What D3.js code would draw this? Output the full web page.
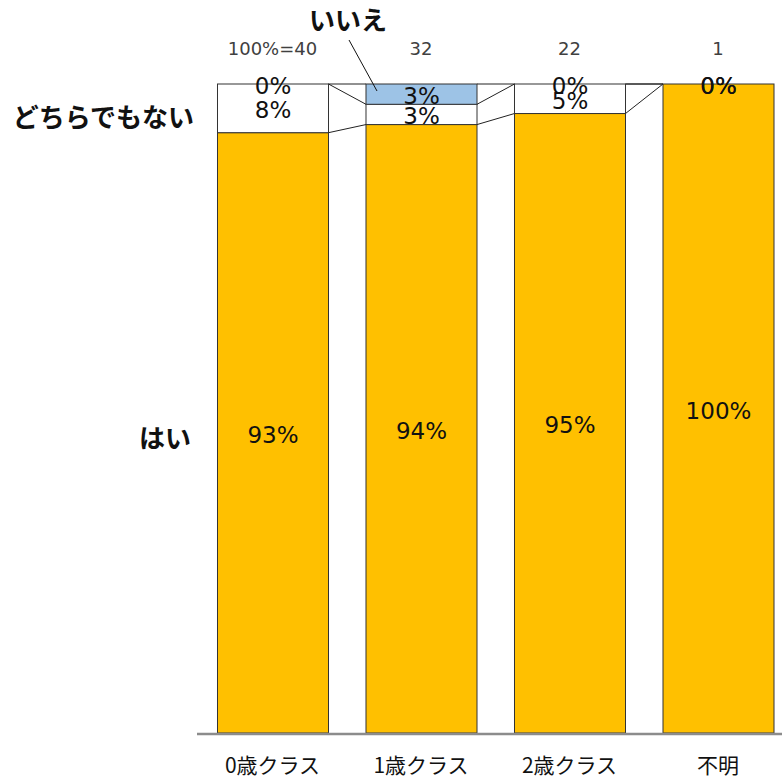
<!DOCTYPE html>
<html><head><meta charset="utf-8">
<script src="https://cdn.jsdelivr.net/npm/d3@7"></script>
<style>
html,body{margin:0;padding:0;background:#fff;}
svg{display:block;font-family:"Noto Sans CJK JP","Noto Sans",sans-serif;}
</style></head>
<body>
<svg id="chart" width="782" height="780"></svg>
<script>
const categories = ["0歳クラス", "1歳クラス", "2歳クラス", "不明"];
const totals = ["100%=40", "32", "22", "1"];
const seriesNames = ["はい", "どちらでもない", "いいえ"];
const yesValues = [92.5, 93.75, 95.45, 100];
const neutralValues = [7.5, 3.125, 4.55, 0];
const noValues = [0, 3.125, 0, 0];
const colors = ["#FFC000", "#FFFFFF", "#9DC3E6"];

const svg = d3.select("#chart");
const x = d3.scaleBand().domain(categories).range([198.25, 792.25]).paddingInner(0.2525).paddingOuter(0.12625);
const y = d3.scaleLinear().domain([0, 100]).range([733, 84]);
const bw = x.bandwidth();
const numFont = "DejaVu Sans, Verdana, sans-serif";

const seriesVals = [yesValues, neutralValues, noValues];
const stacks = seriesVals.map(() => []);
categories.forEach((c, i) => {
  let acc = 0;
  seriesVals.forEach((vals, s) => {
    stacks[s].push([acc, acc + vals[i]]);
    acc += vals[i];
  });
});

// series lines
const gl = svg.append("g");
stacks.forEach((st) => {
  for (let i = 0; i < categories.length - 1; i++) {
    gl.append("line")
      .attr("x1", x(categories[i]) + bw + 0.5).attr("y1", y(st[i][1]))
      .attr("x2", x(categories[i + 1]) + 0.5).attr("y2", y(st[i + 1][1]))
      .attr("stroke", "#222").attr("stroke-width", 1);
  }
});

// bars
stacks.forEach((st, s) => {
  svg.append("g").selectAll("rect").data(st).join("rect")
    .attr("x", (d, i) => x(categories[i]) + 0.5)
    .attr("y", d => y(d[1]))
    .attr("width", bw)
    .attr("height", d => y(d[0]) - y(d[1]))
    .attr("fill", colors[s])
    .attr("stroke", "#333")
    .attr("stroke-width", 1);
});

// data labels
stacks.forEach((st, s) => {
  svg.append("g").selectAll("text").data(st).join("text")
    .attr("x", (d, i) => x(categories[i]) + bw / 2 + 0.5)
    .attr("y", d => (y(d[0]) + y(d[1])) / 2 + 2)
    .attr("text-anchor", "middle")
    .attr("dominant-baseline", "central")
    .attr("font-family", numFont)
    .attr("font-size", 23)
    .attr("fill", "#111")
    .text(d => Math.round(d[1] - d[0]) + "%");
});

// totals on top
svg.append("g").selectAll("text").data(totals).join("text")
  .attr("x", (d, i) => x(categories[i]) + bw / 2)
  .attr("y", 48)
  .attr("text-anchor", "middle")
  .attr("dominant-baseline", "central")
  .attr("font-family", numFont)
  .attr("font-size", 18)
  .attr("fill", "#404040")
  .text(d => d);

// axis
const axis = d3.axisBottom(x).tickSize(0).tickPadding(24);
const ga = svg.append("g").attr("transform", "translate(0,734)").call(axis);
ga.select(".domain").remove();
ga.append("line").attr("x1", 197).attr("x2", 782).attr("y1", 0).attr("y2", 0)
  .attr("stroke", "#8c8c8c").attr("stroke-width", 2.5);
ga.selectAll(".tick text").attr("font-size", 21).attr("fill", "#111")
  .attr("font-family", "Noto Sans CJK JP");

// series name labels
const labelFont = 26;
svg.append("text").attr("x", 194).attr("y", 115).attr("text-anchor", "end")
  .attr("dominant-baseline", "central").attr("font-size", labelFont).attr("font-weight", "bold")
  .attr("fill", "#111").text(seriesNames[1]);
svg.append("text").attr("x", 191).attr("y", 436).attr("text-anchor", "end")
  .attr("dominant-baseline", "central").attr("font-size", labelFont).attr("font-weight", "bold")
  .attr("fill", "#111").text(seriesNames[0]);
svg.append("text").attr("x", 348).attr("y", 18).attr("text-anchor", "middle")
  .attr("dominant-baseline", "central").attr("font-size", labelFont).attr("font-weight", "bold")
  .attr("fill", "#111").text(seriesNames[2]);
// leader line
svg.append("line").attr("x1", 349).attr("y1", 40).attr("x2", 377).attr("y2", 91)
  .attr("stroke", "#111").attr("stroke-width", 1);
</script>
</body></html>
